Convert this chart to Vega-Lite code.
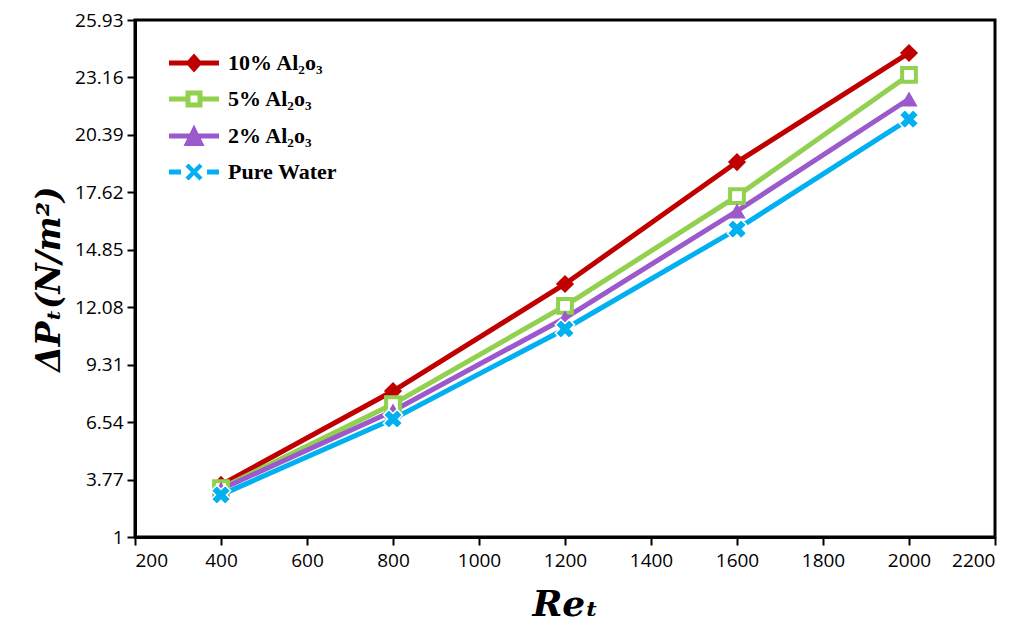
{
  "$schema": "https://vega.github.io/schema/vega-lite/v6.json",
  "width": 860,
  "height": 517,
  "autosize": {"type": "none"},
  "padding": {"left": 135, "top": 20, "right": 31, "bottom": 97},
  "background": "white",
  "config": {
    "view": {"stroke": "black", "strokeWidth": 3},
    "axis": {"grid": false, "domainColor": "black", "domainWidth": 3, "tickColor": "black", "tickWidth": 2, "tickSize": 8, "labelColor": "black", "titleColor": "black"}
  },
  "data": {
    "values": [
      {"series": "10% Al₂o₃", "Re": 400, "dP": 3.51},
      {"series": "10% Al₂o₃", "Re": 800, "dP": 8.04},
      {"series": "10% Al₂o₃", "Re": 1200, "dP": 13.2},
      {"series": "10% Al₂o₃", "Re": 1600, "dP": 19.08},
      {"series": "10% Al₂o₃", "Re": 2000, "dP": 24.34},
      {"series": "5% Al₂o₃", "Re": 400, "dP": 3.35},
      {"series": "5% Al₂o₃", "Re": 800, "dP": 7.41},
      {"series": "5% Al₂o₃", "Re": 1200, "dP": 12.14},
      {"series": "5% Al₂o₃", "Re": 1600, "dP": 17.44},
      {"series": "5% Al₂o₃", "Re": 2000, "dP": 23.28},
      {"series": "2% Al₂o₃", "Re": 400, "dP": 3.3},
      {"series": "2% Al₂o₃", "Re": 800, "dP": 7.08},
      {"series": "2% Al₂o₃", "Re": 1200, "dP": 11.56},
      {"series": "2% Al₂o₃", "Re": 1600, "dP": 16.72},
      {"series": "2% Al₂o₃", "Re": 2000, "dP": 22.12},
      {"series": "Pure Water", "Re": 400, "dP": 3.03},
      {"series": "Pure Water", "Re": 800, "dP": 6.69},
      {"series": "Pure Water", "Re": 1200, "dP": 11.03},
      {"series": "Pure Water", "Re": 1600, "dP": 15.85},
      {"series": "Pure Water", "Re": 2000, "dP": 21.15}
    ]
  },
  "encoding": {
    "x": {"field": "Re", "type": "quantitative", "scale": {"domain": [200, 2200], "nice": false, "zero": false},
      "axis": {"values": [200, 400, 600, 800, 1000, 1200, 1400, 1600, 1800, 2000, 2200], "format": "d", "labelFont": "Open Sans", "labelFontSize": 19, "labelPadding": 6, "title": "Reₜ", "titleFont": "DejaVu Serif", "titleFontStyle": "italic", "titleFontWeight": "bold", "titleFontSize": 36, "titlePadding": 17}},
    "y": {"field": "dP", "type": "quantitative", "scale": {"domain": [1, 25.93], "nice": false, "zero": false},
      "axis": {"values": [1, 3.77, 6.54, 9.31, 12.08, 14.85, 17.62, 20.39, 23.16, 25.93], "format": ".2~f", "labelFont": "Open Sans", "labelFontSize": 19, "labelPadding": 4, "title": "ΔPₜ(N/m²)", "titleFont": "DejaVu Serif", "titleFontStyle": "italic", "titleFontWeight": "bold", "titleFontSize": 33, "titlePadding": 8}}
  },
  "layer": [
    {
      "mark": {"type": "line", "strokeWidth": 5},
      "encoding": {
        "color": {"field": "series", "type": "nominal",
          "scale": {"domain": ["10% Al₂o₃", "5% Al₂o₃", "2% Al₂o₃", "Pure Water"], "range": ["#C00000", "#92D050", "#9B59CC", "#00B0F0"]},
          "legend": {
            "title": null, "orient": "none", "legendX": 33, "legendY": 32, "padding": 0,
            "symbolSize": 400, "symbolOffset": 15, "labelOffset": 23, "rowPadding": 14,
            "labelFont": "Liberation Serif", "labelFontWeight": "bold", "labelFontSize": 22, "labelColor": "black",
            "encode": {"symbols": {"update": {
              "shape": {"signal": "['M-2.5,-0.25H2.5V0.25H-2.5Z M0,-0.95L0.85,0L0,0.95L-0.85,0Z','M-2.5,-0.25H-0.85V0.25H-2.5Z M0.85,-0.25H2.5V0.25H0.85Z M-0.85,-0.85H0.85V0.85H-0.85Z M-0.35,-0.35V0.35H0.35V-0.35Z','M-2.5,-0.25H2.5V0.25H-2.5Z M0,-1.15L1.05,1L-1.05,1Z','M-2.5,-0.25H-1.3V0.25H-2.5Z M1.3,-0.25H2.5V0.25H1.3Z M-0.544,-0.856L0.856,0.544L0.544,0.856L-0.856,-0.544Z M0.856,-0.544L-0.544,0.856L-0.856,0.544L0.544,-0.856Z'][indexof(domain('color'), datum.value)]"},
              "fill": {"signal": "scale('color', datum.value)"},
              "fillOpacity": {"value": 1},
              "stroke": {"value": "transparent"},
              "strokeWidth": {"value": 0}
            }}}
          }
        }
      }
    },
    {
      "transform": [{"filter": "datum.series === '10% Al₂o₃'"}],
      "mark": {"type": "point", "shape": "diamond", "filled": true, "color": "#C00000", "size": 330, "opacity": 1}
    },
    {
      "transform": [{"filter": "datum.series === '5% Al₂o₃'"}],
      "mark": {"type": "point", "shape": "square", "filled": false, "fill": "white", "stroke": "#92D050", "strokeWidth": 4, "size": 190, "opacity": 1}
    },
    {
      "transform": [{"filter": "datum.series === '2% Al₂o₃'"}],
      "mark": {"type": "point", "shape": "triangle-up", "filled": true, "color": "#9B59CC", "size": 300, "opacity": 1}
    },
    {
      "transform": [{"filter": "datum.series === 'Pure Water'"}],
      "mark": {"type": "point", "shape": "cross", "angle": 45, "filled": true, "fill": "#00B0F0", "stroke": "white", "strokeWidth": 1.5, "size": 380, "opacity": 1}
    }
  ]
}
